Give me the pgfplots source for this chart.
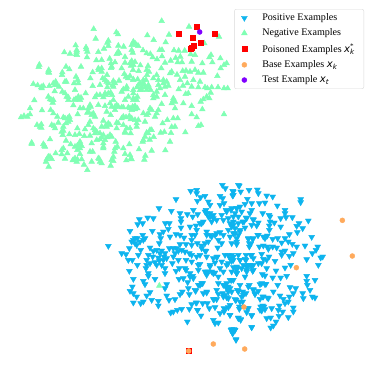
\documentclass[border=0pt]{standalone}
\usepackage{pgfplots}
\pgfplotsset{compat=1.18}
\usepackage{fontspec}
\setmainfont{Liberation Serif}
\newfontfamily\dv{DejaVu Sans}
\definecolor{posblue}{HTML}{0DB4EE}
\definecolor{neggreen}{HTML}{80FFB4}
\definecolor{baseorange}{HTML}{FFAA5C}
\definecolor{testpurple}{HTML}{8000FF}
\newcommand{\mx}[1]{{\dv\itshape #1}}
% coordinates are in thirds of a reference pixel, y counted from the top
\begin{document}
\begin{tikzpicture}
\useasboundingbox (0,0) rectangle (374pt,372pt);
\begin{axis}[
    at={(0,0)}, anchor=south west,
    scale only axis, width=374pt, height=372pt,
    xmin=0, xmax=1122, ymin=0, ymax=1116,
    y dir=reverse,
    hide axis,
    clip=false,
    legend cell align=left,
    legend image post style={xshift=4pt},
    legend style={at={(axis cs:1092,27)}, anchor=north east, draw=black!15,
        rounded corners=2pt, font=\fontsize{10.1}{11.5}\selectfont, row sep=2.7pt,
        inner xsep=7pt, inner ysep=2.5pt, /tikz/every odd column/.append style={column sep=13pt}},
]
\addplot[only marks, mark=triangle*, mark size=3.4pt, color=posblue,
    mark options={rotate=180, draw=posblue, fill=posblue}] coordinates {
(325,738)(572,573)(590,570)(590,580)(528,598)(477,625)(514,633)(667,555)(676,565)(715,555)(698,573)(700,585)
(615,588)(602,592)(592,603)(660,588)(668,595)(672,610)(660,615)(625,605)(630,615)(418,658)(443,653)(460,655)
(428,670)(413,673)(390,693)(457,693)(496,670)(508,670)(505,687)(490,695)(510,710)(540,640)(562,643)(543,655)
(543,665)(543,683)(580,630)(593,643)(578,650)(570,680)(588,677)(615,635)(625,650)(640,645)(650,660)(678,630)
(695,625)(710,625)(700,650)(670,660)(605,670)(428,705)(405,715)(430,720)(405,730)(480,703)(482,715)(478,730)
(528,703)(540,705)(552,713)(558,733)(575,705)(575,720)(620,695)(635,710)(650,700)(660,697)(685,690)(700,700)
(655,720)(665,730)(592,730)(605,737)(653,743)(618,753)(388,745)(365,760)(378,763)(422,750)(415,765)(450,743)
(460,753)(508,745)(540,733)(535,753)(525,760)(445,765)(480,760)(475,773)(490,780)(385,780)(397,780)(412,795)
(440,780)(465,787)(485,795)(500,775)(517,790)(535,780)(558,780)(538,805)(555,805)(568,760)(590,770)(600,765)
(620,770)(652,770)(685,765)(700,770)(715,765)(388,813)(445,820)(495,820)(570,820)(595,795)(630,800)(625,815)
(660,805)(680,795)(695,815)(710,805)(438,805)(495,805)(528,813)(558,810)(595,810)(620,815)(640,820)(670,815)
(710,810)(400,837)(430,843)(445,828)(465,837)(435,853)(397,860)(390,873)(400,880)(410,890)(450,877)(440,887)
(455,900)(430,905)(400,908)(422,910)(475,903)(475,917)(500,853)(495,865)(500,887)(507,900)(525,898)(540,883)
(547,875)(537,837)(550,835)(570,830)(580,835)(563,847)(565,865)(568,883)(587,873)(600,855)(608,850)(620,878)
(655,850)(650,870)(670,855)(685,860)(655,882)(670,890)(685,895)(707,900)(640,898)(650,898)(715,875)(575,913)
(590,908)(608,910)(622,910)(568,927)(545,927)(532,930)(520,935)(512,938)(593,930)(603,947)(628,925)(645,922)
(672,925)(685,922)(660,940)(672,935)(690,945)(562,965)(640,960)(645,970)(655,968)(715,955)(693,990)(705,990)
(698,1000)(708,1020)(718,557)(700,575)(722,575)(698,587)(747,570)(772,569)(775,580)(800,587)(818,590)(902,598)
(902,607)(742,597)(755,610)(735,612)(778,610)(795,608)(832,617)(855,630)(855,640)(720,620)(710,625)(693,630)
(725,635)(755,630)(750,640)(788,640)(810,650)(858,652)(877,652)(842,655)(925,662)(760,658)(738,653)(715,650)
(728,665)(823,668)(755,675)(770,677)(808,677)(842,680)(897,670)(890,678)(908,685)(892,697)(735,683)(700,675)
(720,695)(705,700)(773,705)(808,690)(868,703)(935,711)(790,710)(802,707)(818,717)(833,715)(855,715)(865,725)
(877,732)(845,728)(745,717)(758,717)(752,732)(748,740)(710,715)(695,730)(710,733)(790,737)(805,747)(818,740)
(830,743)(845,755)(855,752)(890,740)(915,737)(953,740)(948,750)(937,760)(968,770)(962,773)(920,778)(955,795)
(738,765)(755,765)(785,762)(790,777)(807,770)(825,783)(845,765)(868,768)(880,760)(695,765)(720,780)(695,783)
(735,777)(785,790)(800,805)(855,803)(872,795)(828,812)(760,795)(745,795)(710,800)(725,805)(758,813)(740,815)
(710,820)(735,830)(787,823)(795,827)(818,833)(842,833)(860,828)(920,828)(920,843)(945,840)(922,855)(930,870)
(695,840)(720,855)(748,855)(780,853)(795,853)(833,855)(870,862)(887,865)(820,875)(712,870)(695,875)(738,880)
(760,870)(765,883)(908,880)(910,895)(937,890)(945,893)(840,887)(850,897)(880,880)(868,890)(790,890)(802,893)
(780,897)(725,890)(708,900)(728,905)(865,905)(855,910)(788,917)(838,917)(880,923)(815,925)(690,915)(718,927)
(745,925)(780,930)(795,928)(848,935)(835,930)(880,935)(740,937)(755,947)(837,948)(865,952)(800,955)(812,953)
(715,953)(722,958)(690,945)(828,965)(820,977)(812,983)(755,982)(695,990)(705,990)(698,1000)(708,1018)
(618,630)(620,640)(630,640)(640,655)(630,650)(635,665)(610,665)(600,670)(665,645)(680,635)(705,640)(685,655)
(700,665)(715,670)(690,670)(705,685)(695,680)(740,655)(760,660)(732,665)(775,668)(807,645)(810,665)(720,690)
(715,705)(590,690)(585,705)(620,705)(630,705)(625,725)(615,730)(645,705)(670,705)(690,710)(710,725)(745,715)
(760,715)(748,730)(775,705)(795,715)(778,740)(802,740)(575,735)(605,745)(615,752)(675,765)(690,775)(700,780)
(720,780)(752,765)(760,775)(738,780)(575,765)(640,775)(650,772)(645,788)(665,785)(685,790)(700,802)(630,795)
(575,785)(600,792)(730,795)(750,795)(775,790)(800,780)(615,815)(635,815)(645,818)(620,825)(655,830)(675,855)
(680,850)(680,865)(690,865)(685,875)(668,880)(675,885)(680,892)(710,820)(700,840)(690,840)(740,800)(755,798)
(760,810)(740,810)(745,860)(728,875)(730,885)(715,872)(760,868)(765,880)(775,873)(785,850)(798,852)(788,890)
(805,895)(782,920)(792,920)(785,932)(720,905)(705,898)(722,960)(755,945)(742,925)(718,920)(675,928)(592,930)
(695,988)(702,988)(698,998)(755,982)(588,908)(642,898)(610,880)(620,875)(585,870)(595,855)(605,850)(578,828)
(470,750)(485,752)(495,760)(478,782)(492,770)(458,770)(470,795)(520,745)(530,745)(520,770)(545,750)(555,755)
(410,735)(420,725)(412,715)(400,720)(435,715)(395,725)(440,795)(450,790)
};
\addlegendentry{Positive Examples}
\addplot[only marks, mark=triangle*, mark size=3.3pt, color=neggreen,
    mark options={draw=neggreen, fill=neggreen}] coordinates {
(485,63)(281,87)(349,97)(354,103)(442,106)(507,104)(287,116)(461,120)(325,122)(497,127)(227,136)(325,138)
(355,137)(371,140)(405,130)(395,135)(415,138)(259,148)(479,150)(486,150)(230,155)(193,157)(210,161)(295,156)
(312,146)(355,155)(398,158)(429,151)(440,160)(451,162)(522,151)(536,152)(554,152)(261,172)(231,165)(289,181)
(305,180)(329,176)(375,171)(458,172)(471,178)(486,169)(527,174)(541,170)(118,194)(116,201)(198,200)(243,200)
(146,210)(147,218)(208,208)(187,217)(186,225)(333,190)(345,187)(333,204)(375,188)(395,183)(405,186)(393,197)
(421,196)(444,198)(495,188)(512,182)(533,187)(546,187)(484,205)(305,205)(296,210)(278,217)(365,205)(373,222)
(399,210)(416,213)(447,215)(515,215)(531,224)(548,213)(558,212)(271,235)(233,240)(228,230)(199,245)(195,245)
(321,225)(308,235)(320,245)(340,243)(357,242)(384,235)(400,238)(413,238)(441,225)(438,240)(475,240)(490,240)
(510,220)(100,252)(113,256)(124,261)(130,258)(148,258)(167,245)(165,255)(177,260)(222,250)(278,258)(300,255)
(322,262)(340,260)(380,260)(411,262)(430,255)(445,255)(480,265)(505,257)(549,257)(225,270)(164,274)(187,275)
(257,280)(290,285)(315,280)(336,285)(365,275)(400,280)(420,270)(460,285)(470,275)(495,285)(536,268)(557,282)
(145,290)(103,301)(200,290)(205,300)(235,295)(228,298)(240,300)(155,300)(158,308)(220,316)(270,315)(295,315)
(315,318)(330,310)(350,315)(375,300)(400,300)(412,290)(460,295)(485,312)(520,295)(525,305)(550,310)(90,325)
(126,331)(152,330)(160,340)(240,325)(250,325)(262,338)(280,340)(320,335)(345,330)(365,322)(390,325)(405,328)
(450,325)(475,330)(525,325)(63,352)(72,348)(90,343)(82,350)(172,350)(233,343)(208,350)(195,355)(285,350)
(332,345)(370,350)(440,345)(465,350)(502,360)(520,355)(533,355)(111,375)(124,373)(124,383)(162,378)(175,368)
(205,365)(198,370)(270,365)(310,362)(350,368)(392,358)(415,360)(435,365)(488,370)(515,381)(525,380)(232,385)
(255,388)(285,390)(320,380)(370,375)(410,380)(450,390)(190,392)(188,405)(208,403)(225,405)(238,402)(253,408)
(270,407)(300,418)(335,410)(375,398)(392,400)(440,398)(482,398)(493,396)(513,399)(556,397)(150,418)(95,428)
(133,437)(198,422)(212,433)(240,425)(275,430)(310,430)(347,425)(388,433)(428,425)(449,419)(461,411)(510,425)
(190,445)(185,450)(240,445)(232,450)(270,455)(278,455)(310,445)(352,440)(370,445)(417,448)(455,452)(496,451)
(167,460)(202,460)(185,463)(240,462)(343,455)(375,462)(145,470)(155,477)(138,485)(146,500)(195,476)(218,481)
(232,478)(245,478)(275,485)(298,477)(305,490)(340,483)(332,497)(393,475)(379,481)(436,467)(433,479)(262,510)
(252,494)(567,80)(657,110)(613,130)(572,163)(585,165)(633,165)(628,172)(637,187)(607,190)(661,175)(680,190)
(672,195)(662,205)(575,185)(570,215)(595,218)(610,218)(585,210)(652,228)(672,265)(683,265)(654,262)(635,262)
(622,265)(615,262)(595,262)(575,260)(632,278)(620,290)(628,295)(610,298)(602,305)(575,318)(607,328)(672,343)
(575,343)(590,352)(603,375)(595,378)(562,250)(580,240)(600,245)(565,280)
(228,297)(235,290)(222,300)(243,293)(150,298)(160,300)(203,355)(210,360)(190,352)(398,320)(405,318)(412,325)
(395,330)(385,322)(420,250)(430,248)(437,262)(425,262)(415,255)(445,262)(425,270)(318,285)(325,280)(310,292)
(332,278)(300,285)(285,292)(378,352)(388,348)(365,355)(395,355)(315,420)(305,412)(322,412)(330,405)(310,440)
(240,432)(232,437)(245,438)(285,400)(290,395)(280,385)(318,375)(325,370)(305,380)(330,375)(340,300)(335,320)
(345,320)(370,322)(355,320)(400,240)(440,210)(410,135)(400,125)(395,150)(395,185)(400,195)(390,190)(350,162)
(358,160)(230,150)(228,163)(258,142)(262,155)(335,200)(322,128)(295,205)(305,215)(315,240)(325,250)(338,255)
(345,250)(378,230)(390,228)(380,268)(370,268)(400,270)(440,270)(452,270)(475,255)(490,250)(500,245)(495,260)
(470,290)(385,290)(400,295)(410,300)(520,300)(515,310)(540,240)(555,230)(470,225)(460,235)(430,240)(220,480)
(230,485)(225,475)(140,478)(150,470)(345,445)(340,470)(335,480)(390,465)(395,478)(300,485)(295,475)(430,420)
(435,410)(445,400)(455,390)(380,385)(375,395)(390,385)(410,370)(405,360)(430,340)(445,340)(470,340)(455,330)
(265,335)(275,345)(265,375)(205,292)(195,280)(170,255)(160,250)(235,250)(272,320)(265,325)(350,385)(355,370)
(310,405)(300,400)(290,420)(225,440)(190,380)(185,395)(165,385)(155,375)(120,380)(125,265)(145,215)(95,432)
(130,432)(135,440)(478,857)
};
\addlegendentry{Negative Examples}
\addplot[only marks, mark=square*, mark size=2.6pt, color=red] coordinates {
(591,79)(536,101)(645,101)(579,112)(602,128)(580,137)(575,143)(571,147)(566,1053)
};
\addlegendentry{Poisoned Examples \mx{x}\rlap{\textsuperscript{*}}\textsubscript{\mx{k}}}
\addplot[only marks, mark=*, mark size=2.5pt, color=baseorange, mark options={draw=baseorange, fill=baseorange}] coordinates {
(1027,661)(1057,768)(889,803)(732,921)(734,1047)(640,1032)(566,1053)
};
\addlegendentry{Base Examples \mx{x}\textsubscript{\mx{k}}}
\addplot[only marks, mark=*, mark size=2.5pt, color=testpurple, mark options={draw=testpurple, fill=testpurple}] coordinates {
(599,96)
};
\addlegendentry{Test Example \mx{x}\textsubscript{\mx{t}}}
\end{axis}
\end{tikzpicture}
\end{document}
